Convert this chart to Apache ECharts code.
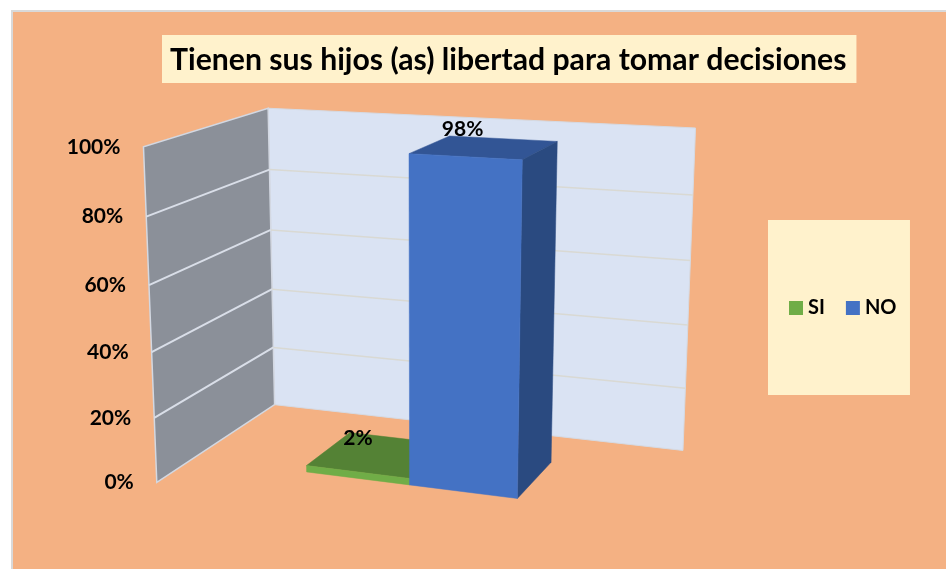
<!DOCTYPE html>
<html><head><meta charset="utf-8">
<style>html,body{margin:0;padding:0;background:#fff}#c{width:946px;height:569px}</style>
<script src="https://cdn.jsdelivr.net/npm/echarts@6/dist/echarts.min.js"></script></head>
<body><div id="c"></div><script>
const titleText='Tienen sus hijos (as) libertad para tomar decisiones';
const seriesNames=['SI','NO'];
const seriesValues=[2,98];
const categories=[''];
const tickValues=[0,20,40,60,80,100];
const tickLabels=['0%','20%','40%','60%','80%','100%'];
// Perspective camera of the 3D scene: unit box (x across, y up, z depth) to page pixels
const M=[400.074,-20.2087,155.740,156.801,9.40437,-342.577,-21.8151,482.394,-0.0947262,-0.0478999,0.138132];
function proj(x,y,z){const w=M[8]*x+M[9]*y+M[10]*z+1;return [(M[0]*x+M[1]*y+M[2]*z+M[3])/w,(M[4]*x+M[5]*y+M[6]*z+M[7])/w];}
const W=946,H=569;
const Z0=.29,Z1=.70,BAR=.238,SHIFT=.0105;
const colors=[{front:'#70AD47',top:'#548235',side:'#4A7430'},{front:'#4472C4',top:'#325595',side:'#2A4A80'}];
const offs=[[8,6],[13,-7]];
const txt={fontFamily:'Lato',fontWeight:'bold',fontSize:21,fill:'#000'};
function poly(pts,fill,stroke,lw){return {type:'polygon',shape:{points:pts},style:{fill:fill,stroke:stroke||fill,lineWidth:lw==null?.5:lw}};}
function wallItem(p,api){
 const yn=t=>1-api.coord([0,t])[1]/H;
 const ch=[];
 ch.push(poly([proj(0,0,1),proj(0,1,1),proj(1,1,1),proj(1,0,1)],'#DAE3F3','#D5DAE3',1));
 ch.push(poly([proj(0,0,0),proj(0,1,0),proj(0,1,1),proj(0,0,1)],'#8B9099','#D3D8E2',1.5));
 tickValues.forEach((t,i)=>{const v=yn(t);
  if(t>0&&t<100){const a=proj(0,v,1),b=proj(1,v,1),c=proj(0,v,0);
   ch.push({type:'line',shape:{x1:a[0],y1:a[1],x2:b[0],y2:b[1]},style:{stroke:'#D9D9D3',lineWidth:1.5}});
   ch.push({type:'line',shape:{x1:a[0],y1:a[1],x2:c[0],y2:c[1]},style:{stroke:'#D9DEE8',lineWidth:2}});}
  const f=proj(0,v,0);
  ch.push({type:'text',style:Object.assign({},txt,{text:tickLabels[i],x:f[0]-23,y:f[1],align:'right',verticalAlign:'middle'})});
 });
 return {type:'group',children:ch};
}
function barItem(idx){return function(p,api){
 const v=api.value(0);
 const cx=api.coord([0,v]);const band=api.size([1,0])[0]/W;
 const x0=cx[0]/W+SHIFT+(idx-1)*BAR*band,x1=x0+BAR*band,y=1-cx[1]/H,c=colors[idx];
 const ch=[
  poly([proj(x0,y,Z0),proj(x0,y,Z1),proj(x1,y,Z1),proj(x1,y,Z0)],c.top),
  poly([proj(x1,0,Z0),proj(x1,y,Z0),proj(x1,y,Z1),proj(x1,0,Z1)],c.side),
  poly([proj(x0,0,Z0),proj(x0,y,Z0),proj(x1,y,Z0),proj(x1,0,Z0)],c.front)];
 const l=proj(x0,y,Z1);
 ch.push({type:'text',style:Object.assign({},txt,{text:v+'%',x:l[0]+offs[idx][0],y:l[1]+offs[idx][1],align:'center',verticalAlign:'middle'})});
 return {type:'group',children:ch};
};}
const chart=echarts.init(document.getElementById('c'),null,{renderer:'canvas'});
chart.setOption({animation:false,backgroundColor:'#fff',
 title:{text:titleText,left:162,top:35,padding:[10,10,8,8],backgroundColor:'#FFF2CC',textStyle:{fontFamily:'Lato',fontWeight:'bold',fontSize:30.2,color:'#000',lineHeight:30}},
 legend:{left:768,top:220,padding:[78,13.5,77,21],itemGap:21,itemWidth:14,itemHeight:14,icon:'rect',backgroundColor:'#FFF2CC',data:seriesNames,
  textStyle:{fontFamily:'Lato',fontWeight:'bold',fontSize:20,color:'#000'}},
 grid:{left:0,right:0,top:0,bottom:0},
 xAxis:{type:'category',data:categories,show:false},
 yAxis:{type:'value',min:0,max:100,interval:20,show:false},
 graphic:[{type:'rect',z:-1,left:11,top:10,shape:{width:940,height:565},style:{fill:'#F4B183',stroke:'#D9D9D9',lineWidth:2}}],
 series:[
  {type:'custom',name:'walls',renderItem:wallItem,data:[[0]],z:1,silent:true},
  {type:'custom',name:seriesNames[0],renderItem:barItem(0),data:[[seriesValues[0]]],z:2,itemStyle:{color:colors[0].front},silent:true},
  {type:'custom',name:seriesNames[1],renderItem:barItem(1),data:[[seriesValues[1]]],z:3,itemStyle:{color:colors[1].front},silent:true}
 ]});
</script></body></html>
